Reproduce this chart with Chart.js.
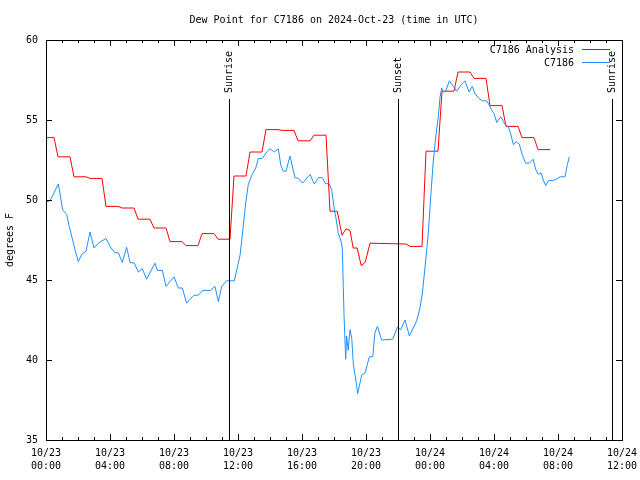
<!DOCTYPE html>
<html>
<head>
<meta charset="utf-8">
<script src="https://cdn.jsdelivr.net/npm/chart.js@4"></script>
<style>
  body { margin: 0; background: #fff; }
  canvas { display: block; }
</style>
</head>
<body>
<canvas id="graficoOrvalho" width="640" height="480"></canvas>
<script>
// hours since 10/23 00:00 UTC
const analysisHours = [0, 0.5, 0.75, 1.5, 1.75, 2.5, 2.75, 3.5, 3.75, 4.5, 4.75, 5.5, 5.75, 6.5, 6.75, 7.5,
  7.75, 8.5, 8.75, 9.5, 9.75, 10.5, 10.75, 11.5, 11.75, 12.5, 12.75, 13.5, 13.75, 14.5, 14.75, 15.5,
  15.75, 16.5, 16.75, 17.5, 17.75, 18.2, 18.5, 18.75, 19.0, 19.2, 19.45, 19.7, 19.95, 20.25, 22.5, 22.75,
  23.5, 23.75, 24.5, 24.75, 25.5, 25.75, 26.5, 26.75, 27.5, 27.75, 28.5, 28.75, 29.5, 29.75, 30.5, 30.75, 31.5];
const analysisDew = [53.9, 53.9, 52.7, 52.7, 51.45, 51.45, 51.35, 51.35, 49.6, 49.6, 49.5, 49.5, 48.8, 48.8, 48.25, 48.25,
  47.4, 47.4, 47.15, 47.15, 47.9, 47.9, 47.55, 47.55, 51.5, 51.5, 53.0, 53.0, 54.4, 54.4, 54.35, 54.35,
  53.7, 53.7, 54.05, 54.05, 49.3, 49.3, 47.8, 48.2, 48.1, 47.0, 47.0, 45.9, 46.1, 47.3, 47.25, 47.1,
  47.1, 53.05, 53.05, 56.8, 56.8, 58.0, 58.0, 57.6, 57.6, 55.9, 55.9, 54.6, 54.6, 53.9, 53.9, 53.15, 53.15];

const stationHours = [0.04, 0.25, 0.77, 1.04, 1.29, 1.44, 1.64, 1.81, 2.02, 2.23, 2.5, 2.75, 3.0, 3.27, 3.75, 4.06,
  4.31, 4.52, 4.77, 5.04, 5.25, 5.52, 5.77, 6.02, 6.29, 6.81, 6.96, 7.27, 7.5, 8.0, 8.27, 8.52,
  8.79, 9.0, 9.25, 9.52, 9.79, 10.29, 10.56, 10.77, 10.98, 11.29, 11.77, 12.13, 12.29, 12.48, 12.64, 12.86,
  13.11, 13.27, 13.52, 13.79, 14.0, 14.27, 14.52, 14.67, 14.83, 15.0, 15.25, 15.56, 15.77, 16.04, 16.5, 16.77,
  17.02, 17.27, 17.48, 17.69, 17.86, 18.02, 18.11, 18.27, 18.42, 18.52, 18.58, 18.63, 18.73, 18.79, 18.89, 19.0,
  19.11, 19.21, 19.38, 19.48, 19.73, 19.94, 20.21, 20.42, 20.56, 20.71, 20.98, 21.67, 21.96, 22.17, 22.44, 22.71,
  23.17, 23.38, 23.52, 23.69, 23.89, 24.06, 24.21, 24.36, 24.52, 24.63, 24.73, 24.83, 24.98, 25.21, 25.46, 25.67,
  25.94, 26.19, 26.44, 26.64, 26.81, 27.06, 27.27, 27.54, 27.69, 27.86, 28.0, 28.17, 28.38, 28.48, 28.58, 28.75,
  28.89, 29.04, 29.21, 29.38, 29.58, 29.77, 29.98, 30.21, 30.44, 30.61, 30.77, 30.94, 31.08, 31.23, 31.39, 31.81,
  32.13, 32.44, 32.58, 32.71];
const stationDew = [49.9, 49.95, 51.0, 49.4, 49.1, 48.4, 47.6, 46.9, 46.15, 46.6, 46.8, 48.0, 47.0, 47.3, 47.6, 47.0,
  46.7, 46.7, 46.1, 47.05, 46.1, 46.05, 45.5, 45.7, 45.05, 46.05, 45.6, 45.6, 44.6, 45.2, 44.5, 44.5,
  43.55, 43.8, 44.05, 44.05, 44.35, 44.35, 44.6, 43.65, 44.6, 44.95, 44.95, 46.55, 48.0, 49.8, 50.95, 51.55,
  52.0, 52.6, 52.6, 53.0, 53.2, 53.0, 53.2, 52.2, 51.8, 51.8, 52.75, 51.4, 51.35, 51.05, 51.6, 51.0,
  51.4, 51.4, 51.0, 51.05, 50.6, 49.4, 48.95, 47.9, 47.5, 47.0, 44.6, 42.7, 40.05, 41.5, 40.6, 41.9,
  41.35, 39.7, 38.65, 37.9, 39.05, 39.2, 40.2, 40.2, 41.7, 42.1, 41.25, 41.3, 42.05, 41.9, 42.5, 41.5,
  42.45, 43.3, 44.15, 45.8, 47.9, 50.4, 52.5, 53.95, 55.2, 56.45, 57.0, 56.75, 56.8, 57.45, 57.1, 56.8,
  57.2, 57.45, 56.75, 57.1, 56.65, 56.35, 56.2, 56.2, 55.95, 55.6, 55.4, 54.85, 55.15, 55.15, 54.9, 54.65,
  54.6, 54.15, 53.45, 53.65, 53.5, 52.8, 52.3, 52.3, 52.55, 51.9, 51.6, 51.7, 51.25, 50.9, 51.2, 51.25,
  51.45, 51.45, 52.2, 52.7];

const sunHours = [11.44, 22.02, 35.35];
const sunLabels = ['Sunrise', 'Sunset', 'Sunrise'];

const xTickLabels = [
  ['10/23', '00:00'], ['10/23', '04:00'], ['10/23', '08:00'], ['10/23', '12:00'], ['10/23', '16:00'],
  ['10/23', '20:00'], ['10/24', '00:00'], ['10/24', '04:00'], ['10/24', '08:00'], ['10/24', '12:00']
];

const fonte = { family: '"DejaVu Sans Mono", monospace', size: 10 };
const fonteCanvas = '10px "DejaVu Sans Mono", monospace';

const moldura = {
  id: 'moldura',
  afterDatasetsDraw(chart) {
    const ctx = chart.ctx, a = chart.chartArea;
    const x = chart.scales.x, y = chart.scales.y;
    ctx.save();
    ctx.strokeStyle = '#000';
    ctx.lineWidth = 1;
    ctx.strokeRect(a.left + 0.5, a.top + 0.5, a.right - a.left, a.bottom - a.top);

    ctx.beginPath();
    for (let h = x.min; h <= x.max; h++) {
      const px = Math.round(x.getPixelForValue(h)) + 0.5;
      const len = h % 4 === 0 ? 6 : 3;
      ctx.moveTo(px, a.bottom); ctx.lineTo(px, a.bottom - len);
      ctx.moveTo(px, a.top); ctx.lineTo(px, a.top + len);
    }
    y.ticks.forEach(t => {
      const py = Math.round(y.getPixelForValue(t.value)) + 0.5;
      ctx.moveTo(a.left, py); ctx.lineTo(a.left + 6, py);
      ctx.moveTo(a.right, py); ctx.lineTo(a.right - 6, py);
    });
    ctx.stroke();

    // sunrise / sunset
    ctx.font = fonteCanvas;
    ctx.fillStyle = '#000';
    sunHours.forEach((h, i) => {
      const px = Math.round(x.getPixelForValue(h)) + 0.5;
      ctx.beginPath();
      ctx.moveTo(px, a.top + 59);
      ctx.lineTo(px, a.bottom);
      ctx.stroke();
      ctx.save();
      ctx.translate(px, a.top + 53);
      ctx.rotate(-Math.PI / 2);
      ctx.textAlign = 'left';
      ctx.textBaseline = 'middle';
      ctx.fillText(sunLabels[i], 0, 0);
      ctx.restore();
    });

    // legenda
    ctx.textAlign = 'right';
    ctx.textBaseline = 'middle';
    chart.data.datasets.forEach((ds, i) => {
      const ly = a.top + 9 + i * 13;
      ctx.fillStyle = '#000';
      ctx.fillText(ds.label, a.right - 48, ly + 1);
      ctx.strokeStyle = ds.borderColor;
      ctx.beginPath();
      ctx.moveTo(a.right - 40, ly + 0.5);
      ctx.lineTo(a.right - 12, ly + 0.5);
      ctx.stroke();
    });
    ctx.restore();
  }
};

new Chart(document.getElementById('graficoOrvalho'), {
  type: 'line',
  data: {
    datasets: [{
      label: 'C7186 Analysis',
      data: analysisHours.map((h, i) => ({ x: h, y: analysisDew[i] })),
      borderColor: '#ff0000',
      borderWidth: 1,
      pointRadius: 0,
      tension: 0,
      order: 1
    }, {
      label: 'C7186',
      data: stationHours.map((h, i) => ({ x: h, y: stationDew[i] })),
      borderColor: '#1e90ff',
      borderWidth: 1,
      pointRadius: 0,
      tension: 0,
      order: 0
    }]
  },
  options: {
    responsive: false,
    animation: false,
    devicePixelRatio: 1,
    layout: { padding: { left: 0, right: 18, top: 0, bottom: 0 } },
    plugins: {
      legend: { display: false },
      tooltip: { enabled: false },
      title: {
        display: true,
        text: 'Dew Point for C7186 on 2024-Oct-23 (time in UTC)',
        font: { family: fonte.family, size: 10, weight: 'normal' },
        color: '#000',
        fullSize: false,
        padding: { top: 14, bottom: 14 }
      }
    },
    scales: {
      x: {
        type: 'linear',
        min: 0,
        max: 36,
        grid: { display: false, drawTicks: false },
        border: { display: false },
        afterFit: s => { s.height = 40; s.paddingLeft = 0; s.paddingRight = 0; },
        ticks: {
          stepSize: 4,
          autoSkip: false,
          maxRotation: 0,
          padding: 7,
          color: '#000',
          font: { family: fonte.family, size: 10, lineHeight: 1.3 },
          callback: v => xTickLabels[v / 4]
        }
      },
      y: {
        min: 35,
        max: 60,
        grid: { display: false, drawTicks: false },
        border: { display: false },
        afterFit: s => { s.width = 46; },
        ticks: {
          stepSize: 5,
          padding: 8,
          color: '#000',
          font: fonte
        },
        title: {
          display: true,
          text: 'degrees F',
          color: '#000',
          font: fonte,
          padding: { top: 4, bottom: 0 }
        }
      }
    }
  },
  plugins: [moldura]
});
</script>
</body>
</html>
